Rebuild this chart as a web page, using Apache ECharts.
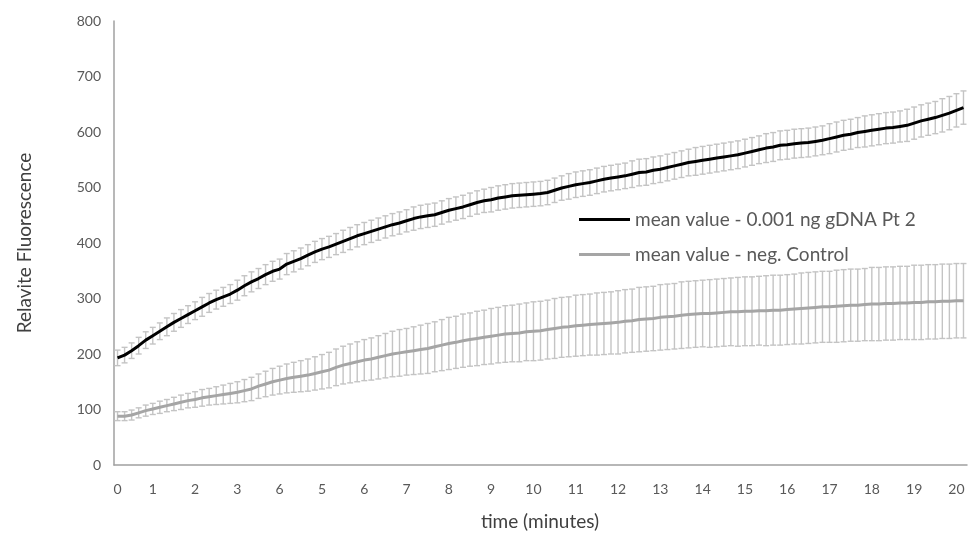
<!DOCTYPE html>
<html>
<head>
    <meta charset="utf-8">
    <title>Fluorescence</title>
    <script src="https://cdn.jsdelivr.net/npm/echarts@6/dist/echarts.min.js"></script>
    <style>
        html, body { margin: 0; padding: 0; background: #fff; }
        #chart { width: 968px; height: 535px; }
    </style>
</head>
<body>
    <div id="chart"></div>
    <script>
        // x axis: one category per reading, labels only at some of them
        var tickIndex = [0, 5, 11, 17, 23, 29, 35, 41, 47, 53, 59, 65, 71, 77, 83, 89, 95, 101, 107, 113, 119];
        var tickText = ['0', '1', '2', '3', '6', '5', '6', '7', '8', '9', '10', '11', '12', '13', '14', '15', '16', '17', '18', '19', '20'];

        // mean value - 0.001 ng gDNA Pt 2
        var sampleMean = [
            193, 198, 206, 215, 225, 233, 241, 249, 257, 264,
            271, 278, 285, 292, 298, 303, 308, 315, 323, 330,
            336, 343, 349, 353, 362, 367, 372, 378, 384, 389,
            393, 398, 403, 408, 413, 417, 421, 425, 429, 433,
            436, 440, 444, 447, 449, 451, 455, 459, 462, 465,
            469, 473, 476, 478, 481, 483, 485, 486, 487, 488,
            489, 491, 495, 499, 502, 505, 507, 509, 512, 515,
            517, 519, 521, 524, 527, 528, 531, 533, 536, 539,
            542, 545, 547, 549, 551, 553, 555, 557, 559, 562,
            565, 568, 571, 573, 576, 577, 579, 580, 581, 583,
            585, 588, 591, 594, 596, 599, 601, 603, 605, 607,
            608, 610, 612, 616, 620, 623, 626, 630, 634, 639,
            644
        ];
        var sampleErr = [
            14, 14, 14, 15, 15, 15, 15, 16, 16, 16,
            16, 16, 17, 17, 17, 17, 17, 18, 18, 18,
            18, 18, 18, 18, 19, 19, 19, 19, 19, 19,
            19, 19, 20, 20, 20, 20, 20, 20, 20, 20,
            20, 20, 21, 21, 21, 21, 21, 21, 21, 21,
            21, 21, 21, 22, 22, 22, 22, 22, 22, 22,
            22, 22, 22, 22, 23, 23, 23, 23, 23, 23,
            23, 23, 23, 24, 24, 24, 24, 24, 24, 24,
            24, 24, 25, 25, 25, 25, 25, 25, 25, 25,
            25, 25, 26, 26, 26, 26, 26, 26, 26, 26,
            26, 27, 27, 27, 27, 27, 28, 28, 28, 28,
            28, 28, 29, 29, 29, 29, 29, 30, 30, 30,
            30
        ];

        // mean value - neg. Control
        var controlMean = [
            88, 88, 90, 94, 98, 101, 104, 107, 110, 113,
            116, 118, 121, 123, 125, 127, 129, 131, 134, 137,
            142, 146, 150, 153, 156, 158, 160, 162, 165, 168,
            171, 176, 180, 183, 186, 189, 191, 194, 197, 200,
            202, 204, 206, 208, 210, 213, 216, 219, 221, 224,
            226, 228, 230, 232, 234, 236, 237, 238, 240, 241,
            242, 244, 246, 248, 249, 251, 252, 253, 254, 255,
            256, 257, 259, 260, 262, 263, 264, 266, 267, 268,
            270, 271, 272, 273, 273, 274, 275, 276, 276, 277,
            277, 278, 278, 279, 279, 280, 281, 282, 283, 284,
            285, 285, 286, 287, 288, 288, 289, 290, 290, 291,
            291, 292, 292, 293, 293, 294, 294, 295, 295, 296,
            296
        ];
        var controlErr = [
            8, 8, 9, 9, 10, 10, 11, 11, 12, 13,
            13, 14, 15, 15, 16, 17, 18, 19, 20, 21,
            22, 23, 24, 25, 26, 27, 28, 29, 30, 31,
            32, 33, 34, 35, 36, 37, 38, 39, 40, 41,
            42, 42, 43, 44, 45, 45, 46, 47, 47, 48,
            48, 49, 49, 50, 50, 51, 51, 52, 52, 53,
            53, 53, 54, 54, 54, 55, 55, 55, 56, 56,
            56, 57, 57, 57, 58, 58, 58, 59, 59, 59,
            60, 60, 60, 60, 61, 61, 61, 61, 62, 62,
            62, 62, 63, 63, 63, 63, 63, 64, 64, 64,
            64, 64, 65, 65, 65, 65, 65, 66, 66, 66,
            66, 66, 66, 67, 67, 67, 67, 67, 67, 67,
            67
        ];

        var seriesNames = ['mean value - 0.001 ng gDNA Pt 2', 'mean value - neg. Control'];

        var categories = sampleMean.map(function (v, i) { return String(i); });

        function errData(mean, err) {
            return mean.map(function (m, i) { return [i, m - err[i], m + err[i]]; });
        }

        function renderErr(params, api) {
            var lo = api.coord([api.value(0), api.value(1)]);
            var hi = api.coord([api.value(0), api.value(2)]);
            var cap = 3;
            var st = { stroke: '#c4c4c4', lineWidth: 1.4 };
            return {
                type: 'group',
                children: [
                    { type: 'line', shape: { x1: hi[0], y1: hi[1], x2: lo[0], y2: lo[1] }, style: st },
                    { type: 'line', shape: { x1: hi[0] - cap, y1: hi[1], x2: hi[0] + cap, y2: hi[1] }, style: st },
                    { type: 'line', shape: { x1: lo[0] - cap, y1: lo[1], x2: lo[0] + cap, y2: lo[1] }, style: st }
                ]
            };
        }

        var font = 'Lato, "Open Sans", sans-serif';
        var chart = echarts.init(document.getElementById('chart'), null, { renderer: 'canvas' });
        chart.setOption({
            animation: false,
            grid: { left: 114, right: 1, top: 21, bottom: 70 },
            legend: {
                orient: 'vertical',
                left: 574,
                top: 205,
                itemWidth: 51,
                itemHeight: 3,
                itemGap: 16,
                icon: 'rect',
                data: seriesNames,
                textStyle: { color: '#595959', fontSize: 19, fontFamily: font }
            },
            xAxis: {
                type: 'category',
                data: categories,
                boundaryGap: true,
                axisLine: { lineStyle: { color: '#a0a0a0', width: 1.5 } },
                axisTick: { show: false },
                axisLabel: {
                    color: '#595959',
                    fontSize: 14,
                    fontFamily: font,
                    margin: 17,
                    interval: function (index) { return tickIndex.indexOf(index) >= 0; },
                    formatter: function (value, index) {
                        var k = tickIndex.indexOf(Number(value));
                        return k >= 0 ? tickText[k] : '';
                    }
                }
            },
            yAxis: {
                type: 'value',
                min: 0,
                max: 800,
                interval: 100,
                splitLine: { show: false },
                axisLine: { show: true, lineStyle: { color: '#a0a0a0', width: 1.5 } },
                axisTick: { show: false },
                axisLabel: { color: '#595959', fontSize: 14, fontFamily: font, margin: 13 }
            },
            graphic: [
                {
                    type: 'text', x: 25, y: 243, rotation: Math.PI / 2,
                    style: { text: 'Relavite Fluorescence', fill: '#404040', fontSize: 19, fontFamily: font, align: 'center', verticalAlign: 'middle' }
                },
                {
                    type: 'text', x: 540, y: 522,
                    style: { text: 'time (minutes)', fill: '#404040', fontSize: 19, fontFamily: font, align: 'center', verticalAlign: 'middle' }
                }
            ],
            series: [
                {
                    type: 'custom',
                    renderItem: renderErr,
                    data: errData(sampleMean, sampleErr),
                    encode: { x: 0, y: [1, 2] },
                    z: 1,
                    silent: true
                },
                {
                    type: 'custom',
                    renderItem: renderErr,
                    data: errData(controlMean, controlErr),
                    encode: { x: 0, y: [1, 2] },
                    z: 1,
                    silent: true
                },
                {
                    name: seriesNames[0],
                    type: 'line',
                    data: sampleMean,
                    symbol: 'none',
                    lineStyle: { color: '#000000', width: 3 },
                    itemStyle: { color: '#000000' },
                    z: 3
                },
                {
                    name: seriesNames[1],
                    type: 'line',
                    data: controlMean,
                    symbol: 'none',
                    lineStyle: { color: '#a5a5a5', width: 3 },
                    itemStyle: { color: '#a5a5a5' },
                    z: 3
                }
            ]
        });
    </script>
</body>
</html>
